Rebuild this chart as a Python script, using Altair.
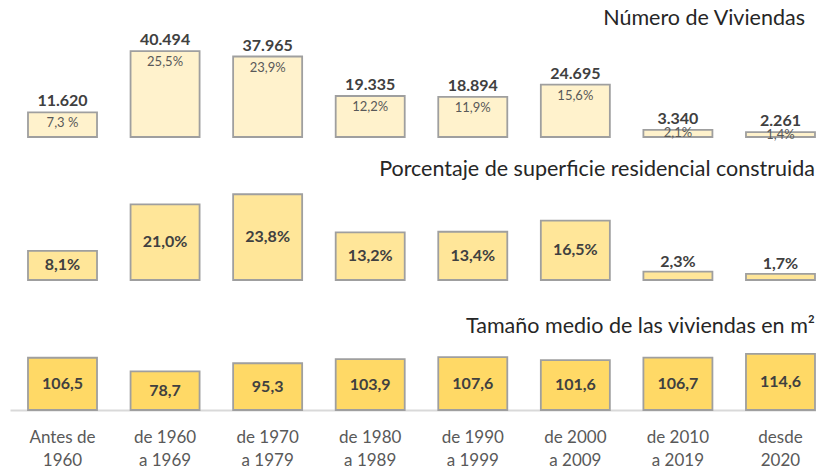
import altair as alt
import pandas as pd

# ---- data ----
periodos = ["Antes de\n1960", "de 1960\na 1969", "de 1970\na 1979", "de 1980\na 1989",
            "de 1990\na 1999", "de 2000\na 2009", "de 2010\na 2019", "desde\n2020"]
viviendas = [11620, 40494, 37965, 19335, 18894, 24695, 3340, 2261]
pct_viviendas = [7.3, 25.5, 23.9, 12.2, 11.9, 15.6, 2.1, 1.4]
pct_superficie = [8.1, 21.0, 23.8, 13.2, 13.4, 16.5, 2.3, 1.7]
tamano = [106.5, 78.7, 95.3, 103.9, 107.6, 101.6, 106.7, 114.6]

titulos = ["Número de Viviendas",
           "Porcentaje de superficie residencial construida",
           "Tamaño medio de las viviendas en m²"]


def miles(v):
    return f"{v:,}".replace(",", ".")


def dec(v):
    return f"{v:.1f}".replace(".", ",")


pct_viv_txt = [dec(v) + "%" for v in pct_viviendas]
pct_viv_txt[0] = dec(pct_viviendas[0]) + " %"

df = pd.DataFrame({
    "periodo": periodos,
    "viviendas": viviendas,
    "viviendas_txt": [miles(v) for v in viviendas],
    "pct_viv": pct_viviendas,
    "pct_viv_txt": pct_viv_txt,
    "pct_sup": pct_superficie,
    "pct_sup_txt": [dec(v) + "%" for v in pct_superficie],
    "tamano": tamano,
    "tamano_txt": [dec(v) for v in tamano],
})

FONT = "Lato"
W = 806
STROKE = "#9F9F9F"
DARK = "#404040"
GRAY = "#595959"

xscale = alt.Scale(domain=periodos, paddingInner=0.327, paddingOuter=0.0926,
                   align=0.947, round=False)
x_hidden = alt.X("periodo:N", sort=periodos, scale=xscale, axis=None)
x_axis = alt.X("periodo:N", sort=periodos, scale=xscale,
               axis=alt.Axis(title=None, labelAngle=0, ticks=False, grid=False,
                             domainColor="#D9D9D9", domainWidth=2,
                             labelColor=GRAY, labelFont=FONT, labelFontSize=17,
                             labelPadding=19, labelLineHeight=23,
                             labelExpr="split(datum.label, '\\n')"))


def titulo(texto, xr, yb):
    return alt.Chart(pd.DataFrame({"t": [texto]})).mark_text(
        align="right", baseline="alphabetic", font=FONT, fontSize=21.5, color="#262626"
    ).encode(x=alt.value(xr), y=alt.value(yb), text="t:N")


base = alt.Chart(df)

# ---- panel 1: number of dwellings ----
y1 = alt.Scale(domain=[0, 60850])
p1_bar = base.mark_bar(color="#FFF2CC", stroke=STROKE, strokeWidth=1.8).encode(
    x=x_hidden, y=alt.Y("viviendas:Q", scale=y1, axis=None))
p1_val = base.mark_text(baseline="bottom", dy=-3, font=FONT, fontSize=16,
                        fontWeight="bold", color=DARK).encode(
    x=x_hidden, y=alt.Y("viviendas:Q", scale=y1), text="viviendas_txt:N")
p1_pct = base.transform_calculate(
    ypos="max(datum.viviendas - 5200, datum.viviendas / 2)"
).mark_text(baseline="middle", font=FONT, fontSize=13, color=GRAY).encode(
    x=x_hidden, y=alt.Y("ypos:Q", scale=y1), text="pct_viv_txt:N")
panel1 = alt.layer(p1_bar, p1_val, p1_pct, titulo(titulos[0], 795, 17)).properties(
    width=W, height=129)

# ---- panel 2: share of residential floor area ----
y2 = alt.Scale(domain=[0, 39.7])
p2_bar = base.mark_bar(color="#FFE699", stroke=STROKE, strokeWidth=1.8).encode(
    x=x_hidden, y=alt.Y("pct_sup:Q", scale=y2, axis=None))
p2_in = base.transform_filter("datum.pct_sup >= 5").transform_calculate(
    ypos="datum.pct_sup / 2"
).mark_text(baseline="middle", font=FONT, fontSize=16, fontWeight="bold", color=DARK).encode(
    x=x_hidden, y=alt.Y("ypos:Q", scale=y2), text="pct_sup_txt:N")
p2_out = base.transform_filter("datum.pct_sup < 5").mark_text(
    baseline="bottom", dy=-2, font=FONT, fontSize=16, fontWeight="bold", color=DARK).encode(
    x=x_hidden, y=alt.Y("pct_sup:Q", scale=y2), text="pct_sup_txt:N")
panel2 = alt.layer(p2_bar, p2_in, p2_out, titulo(titulos[1], 805, 39)).properties(
    width=W, height=143)

# ---- panel 3: average size ----
y3 = alt.Scale(domain=[0, 265])
p3_bar = base.mark_bar(color="#FFD966", stroke=STROKE, strokeWidth=1.8).encode(
    x=x_axis, y=alt.Y("tamano:Q", scale=y3, axis=None))
p3_txt = base.transform_calculate(ypos="datum.tamano / 2").mark_text(
    baseline="middle", font=FONT, fontSize=16, fontWeight="bold", color=DARK).encode(
    x=x_axis, y=alt.Y("ypos:Q", scale=y3), text="tamano_txt:N")
panel3 = alt.layer(p3_bar, p3_txt, titulo(titulos[2], 805, 53)).properties(
    width=W, height=130)

chart = alt.vconcat(panel1, panel2, panel3, spacing=0, bounds="flush").resolve_scale(
    y="independent"
).properties(
    padding={"left": 2, "top": 0, "right": 0, "bottom": 0},
    background="white"
).configure_view(stroke=None)

chart.save("out.html", embed_options={"renderer": "svg", "actions": False})
